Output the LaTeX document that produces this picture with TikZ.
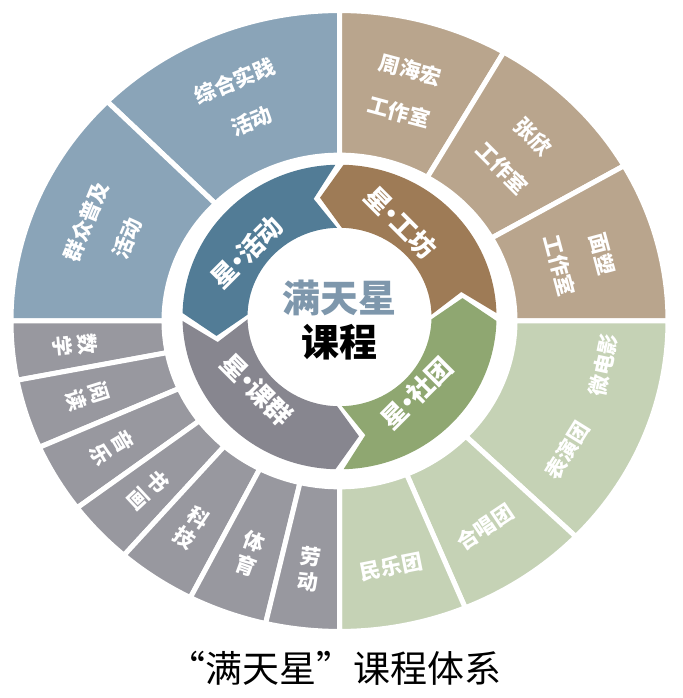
\documentclass[tikz,border=0pt]{standalone}
\usepackage{fontspec}
\setmainfont{Noto Sans CJK SC}
\usepackage{tikz}
\usetikzlibrary{calc}
\usepackage{xcolor}
\definecolor{OuterBlue}{HTML}{8AA4B8}
\definecolor{OuterBrown}{HTML}{B9A58D}
\definecolor{OuterGreen}{HTML}{C5D2B5}
\definecolor{OuterGray}{HTML}{98989F}
\definecolor{InnerBlue}{HTML}{527C96}
\definecolor{InnerBrown}{HTML}{9E7B56}
\definecolor{InnerGreen}{HTML}{8FA771}
\definecolor{InnerGray}{HTML}{87868F}
\definecolor{StarTitle}{HTML}{7E97AC}
\tikzset{
    % Text styles for the two rings
    segtext/.style={
        text=white,
        font=\bfseries\fontsize{21}{44}\selectfont,
        align=center,
        inner sep=0pt
    },
    stacktext/.style={
        text=white,
        font=\bfseries\fontsize{21}{25}\selectfont,
        align=center,
        inner sep=0pt
    },
    hubtext/.style={
        text=white,
        font=\bfseries\fontsize{26}{30}\selectfont,
        inner sep=0pt
    },
    % Centre and caption
    titletext/.style={
        font=\bfseries\fontsize{38}{40}\selectfont,
        inner sep=0pt
    },
    captiontext/.style={
        font=\fontsize{37}{40}\selectfont,
        inner sep=0pt
    }
}
% tight middle dot
\newcommand{\middot}{\hspace{-0.3em}·\hspace{-0.3em}}
% outer ring piece: colour, start angle, end angle
\newcommand{\ringsector}[3]{%
    \filldraw[fill=#1, draw=white, line width=5pt]
        (#2:175.5pt) arc[start angle=#2, end angle=#3, radius=175.5pt]
        -- (#3:328.5pt) arc[start angle=#3, end angle=#2, radius=328.5pt] -- cycle;}
% inner arrow band: colour, start angle (points counter-clockwise)
\newcommand{\arrowband}[2]{%
    \fill[#1] (#2+1.5:157pt) arc[start angle=#2+1.5, end angle=#2+88.5, radius=157pt]
        -- (#2+99:124.5pt) -- (#2+88.5:92pt)
        arc[start angle=#2+88.5, end angle=#2+1.5, radius=92pt]
        -- (#2+12:124.5pt) -- cycle;}

\begin{document}
\begin{tikzpicture}
    \useasboundingbox (-339.5pt,-377pt) rectangle (342.5pt,321pt);

    \begin{scope}[yscale=0.945]
        \ringsector{OuterBlue}{90}{135}
        \ringsector{OuterBlue}{135}{180}
        \ringsector{OuterBrown}{60}{90}
        \ringsector{OuterBrown}{30}{60}
        \ringsector{OuterBrown}{0}{30}
        \ringsector{OuterGreen}{316}{360}
        \ringsector{OuterGreen}{292.5}{316}
        \ringsector{OuterGreen}{270}{292.5}
        \ringsector{OuterGray}{180}{191}
        \ringsector{OuterGray}{191}{204}
        \ringsector{OuterGray}{204}{217}
        \ringsector{OuterGray}{217}{229}
        \ringsector{OuterGray}{229}{243}
        \ringsector{OuterGray}{243}{257}
        \ringsector{OuterGray}{257}{270}

        \node[segtext, rotate=22.5] (practice) at (112.5:252pt) {综合实践\\活动};
        \node[segtext, rotate=67.5] (popular) at (157.5:252pt) {群众普及\\活动};
        \node[segtext, rotate=-15] (zhou) at (75:252pt) {周海宏\\工作室};
        \node[segtext, rotate=-45] (zhang) at (45:252pt) {张欣\\工作室};
        \node[segtext, rotate=-75] (dough) at (15:250pt) {面塑\\工作室};
        \node[segtext, rotate=78] (film) at (-10:268pt) {微电影};
        \node[segtext, rotate=58] (drama) at (-31:266pt) {表演团};
        \node[segtext, rotate=33.75] (choir) at (-56.25:262pt) {合唱团};
        \node[segtext, rotate=11.25] (folk) at (-78.75:265pt) {民乐团};

        \node[stacktext, rotate=-84.5] (math) at (185.5:266pt) {数\\学};
        \node[stacktext, rotate=-72.5] (reading) at (197.5:264pt) {阅\\读};
        \node[stacktext, rotate=-59.5] (music) at (210.5:264pt) {音\\乐};
        \node[stacktext, rotate=-47] (art) at (223:262pt) {书\\画};
        \node[stacktext, rotate=-34] (tech) at (236:264pt) {科\\技};
        \node[stacktext, rotate=-20] (sport) at (250:262pt) {体\\育};
        \node[stacktext, rotate=-6.5] (labour) at (263.5:264pt) {劳\\动};
    \end{scope}

    \begin{scope}[yshift=4pt, yscale=0.97]
        \arrowband{InnerBrown}{0}
        \arrowband{InnerBlue}{90}
        \arrowband{InnerGray}{180}
        \arrowband{InnerGreen}{270}
    \end{scope}

    \node[hubtext, rotate=45] (activity) at (-92.5pt,69pt) {星\middot 活动};
    \node[hubtext, rotate=-45] (workshop) at (61.5pt,98pt) {星\middot 工坊};
    \node[hubtext, rotate=45] (club) at (77.5pt,-72pt) {星\middot 社团};
    \node[hubtext, rotate=-45] (course) at (-82.5pt,-69pt) {星\middot 课群};

    \node[titletext, text=StarTitle] (star) at (-0.5pt,23pt) {满天星};
    \node[titletext, text=black] (curriculum) at (-0.5pt,-21pt) {课程};

    \node[captiontext] (caption) at (-4.5pt,-347pt) {“满天星”课程体系};
\end{tikzpicture}
\end{document}
